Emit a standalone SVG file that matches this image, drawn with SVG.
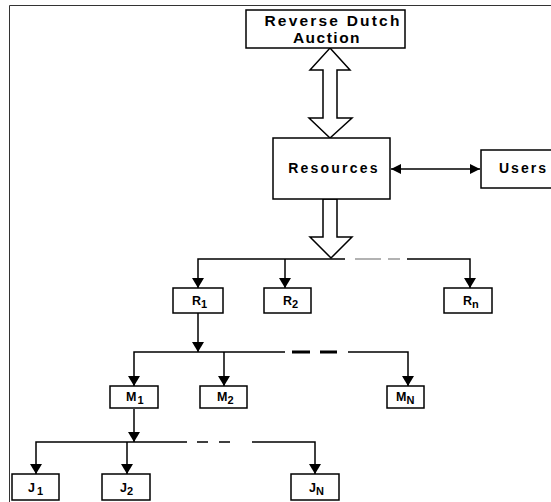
<svg xmlns="http://www.w3.org/2000/svg" width="551" height="502" viewBox="0 0 551 502">
<defs>
<style>
.box{fill:#fff;stroke:#000;stroke-width:1.5}
.t{font-family:"Liberation Sans",Arial,sans-serif;font-weight:bold;fill:#000}
.ln{fill:none;stroke:#000;stroke-width:1.5}
.hollow{fill:#fff;stroke:#000;stroke-width:1.5;stroke-linejoin:miter}
</style>
<marker id="ah" viewBox="0 0 10 10" refX="10" refY="5" markerWidth="10" markerHeight="10" markerUnits="userSpaceOnUse" orient="auto-start-reverse">
<path d="M0,0 L10,5 L0,10 z" fill="#000"/>
</marker>
<marker id="ahL" viewBox="0 0 10 12" refX="10" refY="6" markerWidth="12" markerHeight="12" markerUnits="userSpaceOnUse" orient="auto">
<path d="M0,0 L10,6 L0,12 z" fill="#000"/>
</marker>
</defs>
<rect width="551" height="502" fill="#fff"/>
<path d="M9.5,502 V5.5 H551" fill="none" stroke="#333" stroke-width="1"/>

<g id="connectors">
<polygon class="hollow" points="330,48 350,70 337,70 337,118 352,118 330,138 309,118 323,118 323,70 310,70"/>
<polygon class="hollow" points="323,199 337,199 337,237 352,237 331,258 310,237 323,237"/>
<line class="ln" x1="391" y1="169" x2="480" y2="169" marker-start="url(#ah)" marker-end="url(#ah)"/>
<!-- R level -->
<path class="ln" d="M345,259 H198 V288" marker-end="url(#ahL)"/>
<line class="ln" x1="285" y1="259" x2="285" y2="288" marker-end="url(#ahL)"/>
<path class="ln" d="M407,259 H470 V288" marker-end="url(#ahL)"/>
<line x1="355" y1="259" x2="400" y2="259" stroke="#999" stroke-width="1.5" stroke-dasharray="26,7"/>
<line class="ln" x1="198" y1="313" x2="198" y2="352" marker-end="url(#ahL)"/>
<!-- M level -->
<path class="ln" d="M285,352 H134 V386" marker-end="url(#ahL)"/>
<line class="ln" x1="224" y1="352" x2="224" y2="386" marker-end="url(#ahL)"/>
<path class="ln" d="M348,352 H408 V386" marker-end="url(#ahL)"/>
<line x1="292" y1="352" x2="337" y2="352" stroke="#000" stroke-width="3" stroke-dasharray="18,10"/>
<line class="ln" x1="134" y1="409" x2="134" y2="442" marker-end="url(#ahL)"/>
<!-- J level -->
<path class="ln" d="M187,442 H36 V474" marker-end="url(#ahL)"/>
<line class="ln" x1="127" y1="442" x2="127" y2="474" marker-end="url(#ahL)"/>
<path class="ln" d="M252,442 H315 V474" marker-end="url(#ahL)"/>
<line class="ln" x1="197" y1="442" x2="240" y2="442" stroke-dasharray="11,11"/>
</g>

<g id="auction">
<rect class="box" x="246" y="10" width="159" height="38"/>
<text class="t" x="333" y="25.5" font-size="15.5" text-anchor="middle" letter-spacing="2.2">Reverse Dutch</text>
<text class="t" x="327" y="42.5" font-size="15.5" text-anchor="middle" letter-spacing="1.5">Auction</text>
</g>
<g id="resources">
<rect class="box" x="273" y="138" width="117" height="61"/>
<text class="t" x="334" y="173" font-size="14" text-anchor="middle" letter-spacing="2.2">Resources</text>
</g>
<g id="users">
<rect class="box" x="481" y="150" width="80" height="38"/>
<text class="t" x="499" y="173" font-size="14" letter-spacing="2">Users</text>
</g>

<g id="R1"><rect class="box" x="173" y="288" width="50" height="25"/><text class="t" x="192" y="305" font-size="12.5">R<tspan dy="3" font-size="11">1</tspan></text></g>
<g id="R2"><rect class="box" x="264" y="288" width="47" height="25"/><text class="t" x="283" y="305" font-size="12.5">R<tspan dy="3" font-size="11">2</tspan></text></g>
<g id="Rn"><rect class="box" x="444" y="288" width="48" height="25"/><text class="t" x="463" y="305" font-size="12.5">R<tspan dy="3" font-size="11">n</tspan></text></g>

<g id="M1"><rect class="box" x="110" y="386" width="48" height="22"/><text class="t" x="126" y="401" font-size="12.5">M<tspan dx="1" dy="3" font-size="11">1</tspan></text></g>
<g id="M2"><rect class="box" x="200" y="386" width="47" height="22"/><text class="t" x="217" y="401" font-size="12.5">M<tspan dy="3" font-size="11">2</tspan></text></g>
<g id="MN"><rect class="box" x="387" y="386" width="37" height="22"/><text class="t" x="396" y="401" font-size="12.5">M<tspan dy="3" font-size="11">N</tspan></text></g>

<g id="J1"><rect class="box" x="12" y="474" width="47" height="26"/><text class="t" x="28" y="492" font-size="12.5">J<tspan dx="2" dy="3" font-size="11">1</tspan></text></g>
<g id="J2"><rect class="box" x="102" y="474" width="48" height="26"/><text class="t" x="120" y="492" font-size="12.5">J<tspan dy="3" font-size="11">2</tspan></text></g>
<g id="JN"><rect class="box" x="291" y="474" width="48" height="26"/><text class="t" x="309" y="492" font-size="12.5">J<tspan dy="3" font-size="11">N</tspan></text></g>
</svg>
